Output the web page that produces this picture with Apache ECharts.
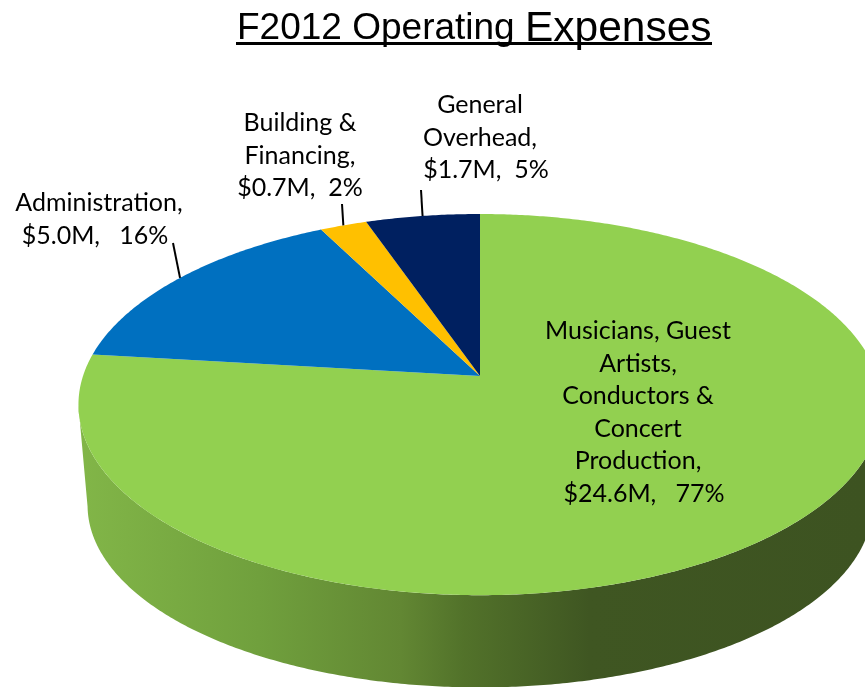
<!DOCTYPE html>
<html>
<head>
<meta charset="utf-8">
<title>F2012 Operating Expenses</title>
<style>html,body{margin:0;padding:0;background:#fff}#chart{width:865px;height:687px}</style>
<script src="https://cdn.jsdelivr.net/npm/echarts@6/dist/echarts.min.js"></script>
</head>
<body>
<div id="chart"></div>
<script>
// Expense categories, clockwise from twelve o'clock
const categoryLines = [
  ['Musicians, Guest', 'Artists,', 'Conductors &', 'Concert', 'Production,'],
  ['Administration,'],
  ['Building &', 'Financing,'],
  ['General', 'Overhead,']
];
const amounts = [24.6, 5.0, 0.7, 1.7];          // $ millions
const amountLabels = ['$24.6M,', '$5.0M,', '$0.7M,', '$1.7M,'];
const shareLabels = ['77%', '16%', '2%', '5%'];
const sliceColors = ['#92D050', '#0070C0', '#FFC000', '#002060'];

// Disc geometry: a tilted circle seen in perspective, nearer edge larger
const topDisc = { cx: 480, cy: 376, rx: 397, ry: 186.3, k: 0.15 };
const baseDisc = { cx: 480, cy: 478, rx: 388, ry: 178, k: 0.15 };

// Label anchors: centre of the name lines, centre of the amount line, first line's y,
// and the spacing between amount and share
const labelLayout = [
  { x: 638, amountX: 644, y: 331, gap: '   ' },
  { x: 99, amountX: 95, y: 203, gap: '   ' },
  { x: 300, amountX: 300, y: 123, gap: '  ' },
  { x: 480, amountX: 486, y: 105, gap: '  ' }
];
const leaderStarts = [null, [173, 243], [342, 204], [421, 190]];

const TOTAL = amounts.reduce((a, b) => a + b, 0);
const LABEL_FONT = '25px Lato, Carlito, sans-serif';
const LINE_PITCH = 32.5;

function project(disc, deg) {
  const t = deg * Math.PI / 180;
  const X = Math.sin(t), Y = Math.cos(t);
  const w = 1 / (1 + disc.k * Y);
  return [disc.cx + disc.rx * X * w, disc.cy - disc.ry * Y * w];
}

function arc(disc, from, to) {
  const pts = [];
  const steps = Math.max(2, Math.ceil(Math.abs(to - from) * 2));
  for (let i = 0; i <= steps; i++) pts.push(project(disc, from + (to - from) * i / steps));
  return pts;
}

function sliceAngles(index) {
  const before = amounts.slice(0, index).reduce((a, b) => a + b, 0);
  return [before / TOTAL * 360, (before + amounts[index]) / TOTAL * 360];
}

// Side wall of the cylinder, visible along the front of the disc
function renderWall() {
  const fill = new echarts.graphic.LinearGradient(78, 0, 865, 0, [
    { offset: 0, color: '#82B648' },
    { offset: 0.23, color: '#70A03D' },
    { offset: 0.41, color: '#628733' },
    { offset: 0.49, color: '#52722A' },
    { offset: 0.65, color: '#3F5622' },
    { offset: 1, color: '#3D5321' }
  ], true);
  const points = arc(topDisc, 99, 261).concat(arc(baseDisc, 261, 99));
  return { type: 'polygon', shape: { points }, style: { fill } };
}

function renderSlice(params, api) {
  const i = api.value(0);
  const [from, to] = sliceAngles(i);
  const points = [[topDisc.cx, topDisc.cy]].concat(arc(topDisc, from, to));
  return { type: 'polygon', shape: { points }, style: { fill: sliceColors[i] } };
}

function labelLine(text, x, y) {
  return {
    type: 'text',
    style: { text, x, y, align: 'center', verticalAlign: 'middle', font: LABEL_FONT, fill: '#000' }
  };
}

function renderLabel(params, api) {
  const i = api.value(0);
  const [from, to] = sliceAngles(i);
  const layout = labelLayout[i];
  const names = categoryLines[i];
  const children = names.map((line, n) => labelLine(line, layout.x, layout.y + n * LINE_PITCH));
  children.push(labelLine(amountLabels[i] + layout.gap + shareLabels[i], layout.amountX, layout.y + names.length * LINE_PITCH));
  if (leaderStarts[i]) {
    const end = project(topDisc, (from + to) / 2);
    children.push({
      type: 'line',
      shape: { x1: leaderStarts[i][0], y1: leaderStarts[i][1], x2: end[0], y2: end[1] },
      style: { stroke: '#000', lineWidth: 2 }
    });
  }
  return { type: 'group', children };
}

const indices = amounts.map((_, i) => [i]);
const chart = echarts.init(document.getElementById('chart'), null, { renderer: 'canvas' });
chart.setOption({
  animation: false,
  backgroundColor: '#fff',
  title: {
    text: '{a|F2012 Operating }{b|Expenses}',
    left: 237,
    top: 4,
    padding: 0,
    textStyle: {
      rich: {
        a: { fontFamily: 'Liberation Sans', fontWeight: 'normal', fontSize: 37, color: '#000', height: 50 },
        b: { fontFamily: 'Liberation Sans', fontWeight: 'normal', fontSize: 42.5, color: '#000', height: 50 }
      }
    }
  },
  graphic: [{ type: 'rect', shape: { x: 236, y: 42, width: 476, height: 3 }, style: { fill: '#000' } }],
  series: [
    { type: 'custom', coordinateSystem: 'none', silent: true, data: [[0]], renderItem: renderWall },
    { type: 'custom', coordinateSystem: 'none', silent: true, data: indices, renderItem: renderSlice },
    { type: 'custom', coordinateSystem: 'none', silent: true, data: indices, renderItem: renderLabel }
  ]
});
</script>
</body>
</html>
